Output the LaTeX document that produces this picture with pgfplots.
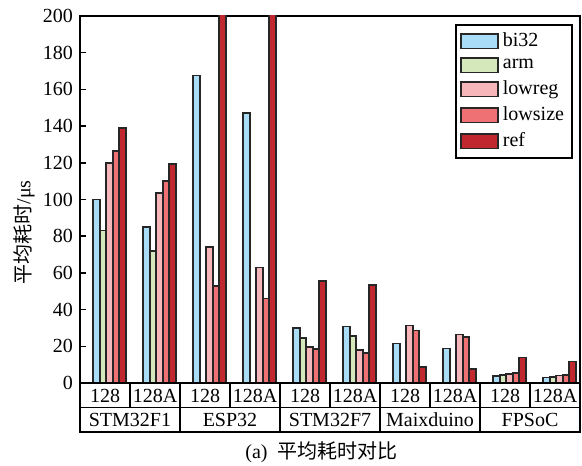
\documentclass[border=0pt]{standalone}
\usepackage{fontspec}
\setmainfont{Liberation Serif}
\newfontfamily\cjk{Noto Sans CJK SC}
\usepackage{pgfplots}
\usepackage{pgfplotstable}
\pgfplotsset{compat=1.18}
\definecolor{cbi}{HTML}{A8DCF7}
\definecolor{carm}{HTML}{D5E8BC}
\definecolor{clowreg}{HTML}{F7B6B9}
\definecolor{clowsize}{HTML}{F07173}
\definecolor{cref}{HTML}{C1272F}
\pgfplotstableread{
x bi32 arm lowreg lowsize ref
0 100 83 120 126.5 139
1 85 72 103.5 110 119.5
2 167.5 nan 74 53 250
3 147 nan 63 46 250
4 30 24.5 19.5 18.5 55.5
5 30.7 25.5 18 16.5 53.5
6 21.5 nan 31.3 28.7 8.7
7 18.7 nan 26.5 25 7.6
8 3.8 4.2 4.9 5.3 14
9 3.1 3.3 4 4.5 11.8
}\datatable
\begin{document}
\begin{tikzpicture}
\path[use as bounding box] (-40pt,-41pt) rectangle (251pt,191.5pt);
\begin{axis}[
  scale only axis, width=250pt, height=183.5pt,
  xmin=-0.5, xmax=9.5, ymin=0, ymax=200,
  ytick={0,20,...,200}, xtick=\empty,
  ytick pos=left, tick align=inside, major tick length=3pt,
  tick style={line width=0.8pt, black},
  axis line style={line width=1pt},
  /pgf/number format/assume math mode=true,
  ylabel={{\cjk 平均耗时}/μs},
  ylabel style={at={(axis description cs:-0.112,0.41)}, anchor=center},
  ybar, bar width=0.13,
  every axis plot/.append style={draw=black!85, line width=0.8pt},
  legend image code/.code={\draw[#1, line width=0.8pt] (0pt,-3.6pt) rectangle (18.5pt,3.6pt);},
  legend style={at={(rel axis cs:1,1)}, anchor=north east, xshift=-3.5pt, yshift=-4pt,
    draw=black, line width=1pt, font=\normalsize, row sep=0.6pt, inner sep=2pt,
    cells={anchor=west}},
]
\addplot[fill=cbi, bar shift=-0.17] table[x=x, y=bi32] {\datatable};
\addplot[fill=carm, bar shift=-0.04] table[x=x, y=arm] {\datatable};
\addplot[fill=clowreg, bar shift=0.09] table[x=x, y=lowreg] {\datatable};
\addplot[fill=clowsize, bar shift=0.22] table[x=x, y=lowsize] {\datatable};
\addplot[fill=cref, bar shift=0.35] table[x=x, y=ref] {\datatable};
\legend{bi32,arm,lowreg,lowsize,ref}
\end{axis}
\draw[line width=0.8pt] (0,0) rectangle (250pt,-24.5pt);
\draw[line width=0.8pt] (0,-12.25pt) -- (250pt,-12.25pt);
\foreach \i in {1,...,9} {\draw[line width=0.8pt] (25pt*\i,0) -- (25pt*\i,-12.25pt);}
\foreach \i in {1,...,4} {\draw[line width=0.8pt] (50pt*\i,-12.25pt) -- (50pt*\i,-24.5pt);}
\foreach \i in {0,2,4,6,8} {\node at (25pt*\i+12.5pt,-6.4pt) {128};}
\foreach \i in {1,3,5,7,9} {\node at (25pt*\i+12.5pt,-6.4pt) {128A};}
\foreach \n [count=\j from 0] in {STM32F1,ESP32,STM32F7,Maixduino,FPSoC} {\node at (50pt*\j+25pt,-18.5pt) {\n};}
\node at (120.75pt,-34.5pt) {(a)\ \ {\cjk 平均耗时对比}};
\end{tikzpicture}
\end{document}
